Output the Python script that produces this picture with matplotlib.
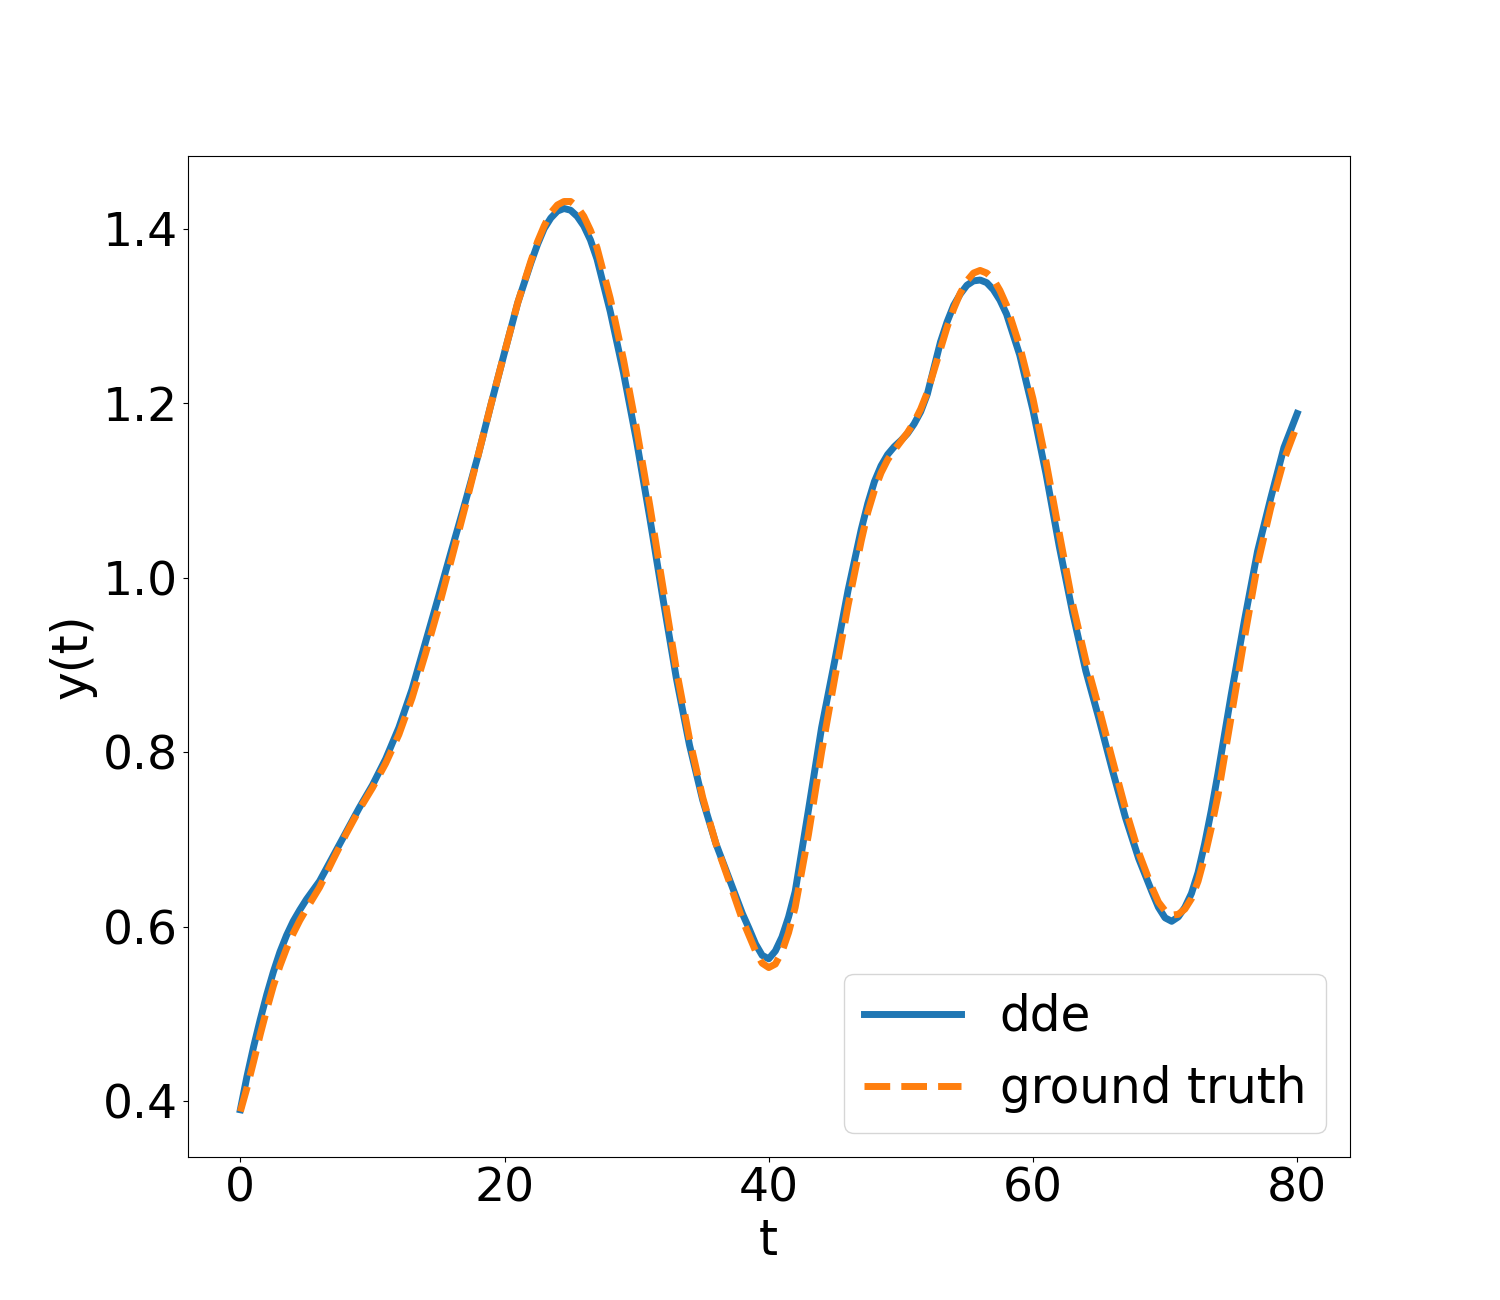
import matplotlib
matplotlib.use("Agg")
import matplotlib.pyplot as plt

# sample times (denser around bends)
t = [0, 0.5, 1, 1.5, 2, 2.5, 3, 3.5, 4, 4.5, 5, 6, 7, 8, 9, 10, 11, 12, 13, 14,
     15, 16, 17, 18, 19, 20, 21, 22, 22.5, 23, 23.5, 24, 24.5, 25, 25.5, 26,
     26.5, 27, 28, 29, 30, 31, 32, 33, 34, 35, 36, 37, 38, 38.5, 39, 39.5, 40,
     40.5, 41, 41.5, 42, 43, 44, 45, 46, 47, 47.5, 48, 48.5, 49, 49.5, 50,
     50.5, 51, 51.5, 52, 52.5, 53, 53.5, 54, 54.5, 55, 55.5, 56, 56.5, 57,
     57.5, 58, 59, 60, 61, 62, 63, 64, 65, 66, 67, 68, 69, 69.5, 70, 70.5, 71,
     71.5, 72, 72.5, 73, 73.5, 74, 75, 76, 77, 78, 79, 80]

dde = [0.390, 0.428, 0.462, 0.493, 0.522, 0.548, 0.571, 0.590, 0.606, 0.619,
       0.631, 0.652, 0.680, 0.708, 0.736, 0.762, 0.792, 0.828, 0.872, 0.925,
       0.978, 1.032, 1.085, 1.140, 1.200, 1.258, 1.315, 1.361, 1.382, 1.400,
       1.412, 1.420, 1.423, 1.421, 1.414, 1.403, 1.387, 1.365, 1.305, 1.235,
       1.156, 1.068, 0.975, 0.885, 0.808, 0.745, 0.695, 0.655, 0.615, 0.598,
       0.580, 0.567, 0.563, 0.572, 0.588, 0.611, 0.640, 0.733, 0.828, 0.905,
       0.985, 1.055, 1.085, 1.110, 1.128, 1.141, 1.150, 1.157, 1.165, 1.176,
       1.190, 1.210, 1.240, 1.270, 1.293, 1.312, 1.325, 1.335, 1.340, 1.341,
       1.338, 1.330, 1.318, 1.302, 1.255, 1.192, 1.118, 1.035, 0.960, 0.893,
       0.838, 0.780, 0.725, 0.678, 0.640, 0.622, 0.610, 0.606, 0.611, 0.622,
       0.638, 0.662, 0.695, 0.733, 0.775, 0.865, 0.950, 1.030, 1.091, 1.149,
       1.188]

ground_truth = [0.388, 0.415, 0.445, 0.476, 0.505, 0.532, 0.555, 0.575, 0.592,
                0.607, 0.620, 0.645, 0.676, 0.706, 0.734, 0.759, 0.787, 0.820,
                0.862, 0.912, 0.965, 1.022, 1.080, 1.140, 1.200, 1.258, 1.315,
                1.363, 1.385, 1.403, 1.418, 1.427, 1.431, 1.431, 1.425, 1.414,
                1.398, 1.378, 1.320, 1.250, 1.170, 1.082, 0.988, 0.895, 0.815,
                0.748, 0.695, 0.652, 0.608, 0.590, 0.572, 0.558, 0.553, 0.557,
                0.571, 0.593, 0.622, 0.705, 0.800, 0.885, 0.968, 1.042, 1.075,
                1.100, 1.120, 1.135, 1.146, 1.156, 1.166, 1.178, 1.193, 1.212,
                1.237, 1.262, 1.287, 1.308, 1.326, 1.340, 1.349, 1.352, 1.349,
                1.342, 1.329, 1.312, 1.265, 1.205, 1.132, 1.050, 0.970, 0.905,
                0.850, 0.792, 0.735, 0.685, 0.645, 0.628, 0.618, 0.613, 0.614,
                0.620, 0.632, 0.652, 0.680, 0.713, 0.750, 0.840, 0.930, 1.015,
                1.080, 1.135, 1.175]

fig, ax = plt.subplots(figsize=(15, 13), dpi=100)

ax.plot(t, dde, color='tab:blue', linewidth=5, label='dde')
ax.plot(t, ground_truth, color='tab:orange', linewidth=5, linestyle='--',
        label='ground truth')

ax.set_xlabel('t', fontsize=35)
ax.set_ylabel('y(t)', fontsize=35)
ax.set_xticks([0, 20, 40, 60, 80])
ax.set_yticks([0.4, 0.6, 0.8, 1.0, 1.2, 1.4])
ax.tick_params(axis='both', labelsize=34)
ax.legend(loc='lower right', fontsize=35)

plt.savefig('out.png', dpi=100)
